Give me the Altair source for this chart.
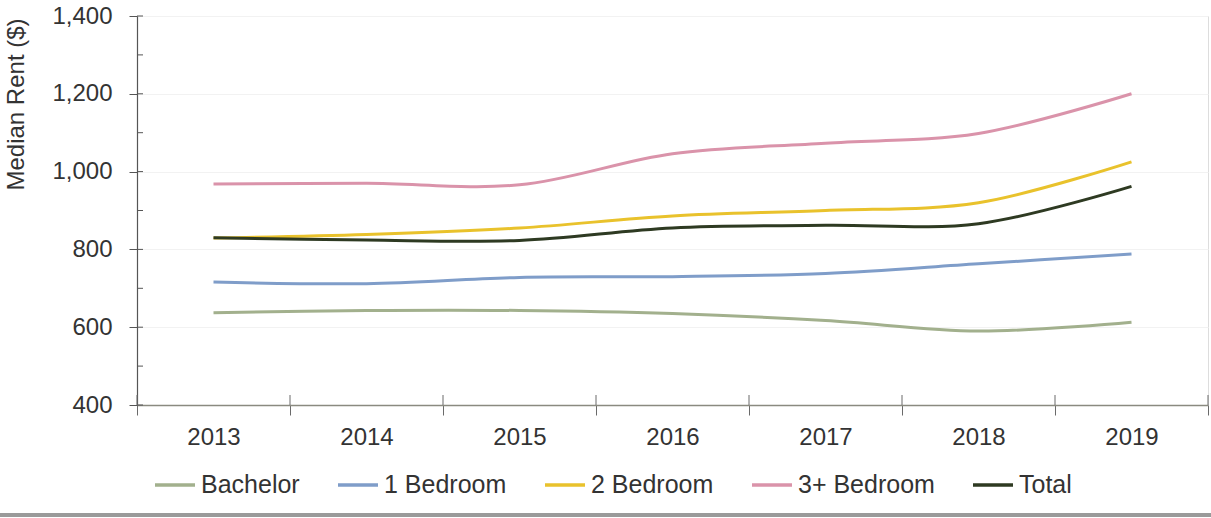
import altair as alt
import pandas as pd

years = ["2013", "2014", "2015", "2016", "2017", "2018", "2019"]
series_names = ["Bachelor", "1 Bedroom", "2 Bedroom", "3+ Bedroom", "Total"]
bachelor = [637, 643, 643, 635, 617, 590, 613]
one_bed = [716, 712, 728, 730, 738, 763, 788]
two_bed = [829, 838, 855, 886, 900, 920, 1025]
three_bed = [968, 970, 966, 1046, 1073, 1098, 1200]
total = [830, 824, 823, 855, 862, 866, 962]
colors = ["#a2b08d", "#7f9dc9", "#e9c22c", "#da93aa", "#2e3a22"]
y_ticks = [400, 500, 600, 700, 800, 900, 1000, 1100, 1200, 1300, 1400]

values = [bachelor, one_bed, two_bed, three_bed, total]
rows = []
for name, vals in zip(series_names, values):
    for yr, v in zip(years, vals):
        rows.append({"Year": yr, "Series": name, "Rent": v})
df = pd.DataFrame(rows)
tick_df = pd.DataFrame({"v": y_ticks})
year_df = pd.DataFrame({"Year": years})

W, H = 1071, 389
font = "Liberation Sans"
x_scale = alt.Scale(type="band", paddingInner=0, paddingOuter=0, domain=years)
y_scale = alt.Scale(domain=[400, 1400], nice=False, zero=False)

x_enc = alt.X(
    "Year:O",
    bandPosition=0.5,
    scale=x_scale,
    axis=alt.Axis(
        title=None,
        labelAngle=0,
        labelFontSize=24,
        labelColor="#333333",
        labelPadding=10,
        tickBand="extent",
        tickSize=10,
        domainColor="#8a8a80",
        tickColor="#6a6a6a",
        domainWidth=1.5,
        grid=False,
    ),
)

lines = alt.Chart(df).mark_line(strokeWidth=3, interpolate="catmull-rom").encode(
    x=x_enc,
    y=alt.Y(
        "Rent:Q",
        scale=y_scale,
        axis=alt.Axis(
            title="Median Rent ($)",
            titleFontSize=24,
            titleFontWeight="normal",
            titleColor="#333333",
            titleAngle=270,
            titleAlign="center",
            titleBaseline="middle",
            titleX=-121,
            titleY=88,
            values=y_ticks,
            labelExpr="datum.value % 200 == 0 ? format(datum.value, ',') : ''",
            labelFontSize=24,
            labelColor="#333333",
            labelPadding=17,
            tickSize=8,
            tickColor="#555555",
            domainColor="#555555",
            domainWidth=1.2,
            grid=True,
            gridColor="#f2f2f2",
            gridWidth=1,
        ),
    ),
    color=alt.Color(
        "Series:N",
        sort=series_names,
        scale=alt.Scale(domain=series_names, range=colors),
        legend=alt.Legend(
            title=None,
            orient="none",
            direction="horizontal",
            legendX=16,
            legendY=H + 58,
            symbolType="stroke",
            symbolSize=1600,
            symbolStrokeWidth=3.5,
            labelFontSize=25,
            labelColor="#333333",
            columnPadding=31,
            labelOffset=4,
        ),
    ),
)

inner_yticks = alt.Chart(tick_df).mark_rule(color="#555555", strokeWidth=1).encode(
    x=alt.value(0),
    x2=alt.value(6),
    y=alt.Y("v:Q", scale=y_scale),
)

inner_xticks = alt.Chart(year_df).mark_rule(color="#6a6a6a", strokeWidth=1).encode(
    x=alt.X("Year:O", bandPosition=0, scale=x_scale),
    y=alt.value(H - 10),
    y2=alt.value(H),
)

inner_xtick_end = (
    alt.Chart(year_df)
    .transform_filter(alt.datum.Year == years[-1])
    .mark_rule(color="#6a6a6a", strokeWidth=1)
    .encode(
        x=alt.X("Year:O", bandPosition=1, scale=x_scale),
        y=alt.value(H - 10),
        y2=alt.value(H),
    )
)

bottom_line = alt.Chart(tick_df).mark_rule(color="#9a9a9a", strokeWidth=3).encode(
    x=alt.value(-137),
    x2=alt.value(W + 10),
    y=alt.value(H + 110),
)

chart = (
    alt.layer(lines, inner_yticks, inner_xticks, inner_xtick_end, bottom_line)
    .properties(
        width=W,
        height=H,
        autosize=alt.AutoSizeParams(type="none"),
        padding={"left": 137, "top": 16, "right": 3, "bottom": 113},
    )
    .configure_view(stroke=None)
    .configure(font=font)
)

chart.save("out.html", embed_options={"renderer": "svg", "actions": False})
